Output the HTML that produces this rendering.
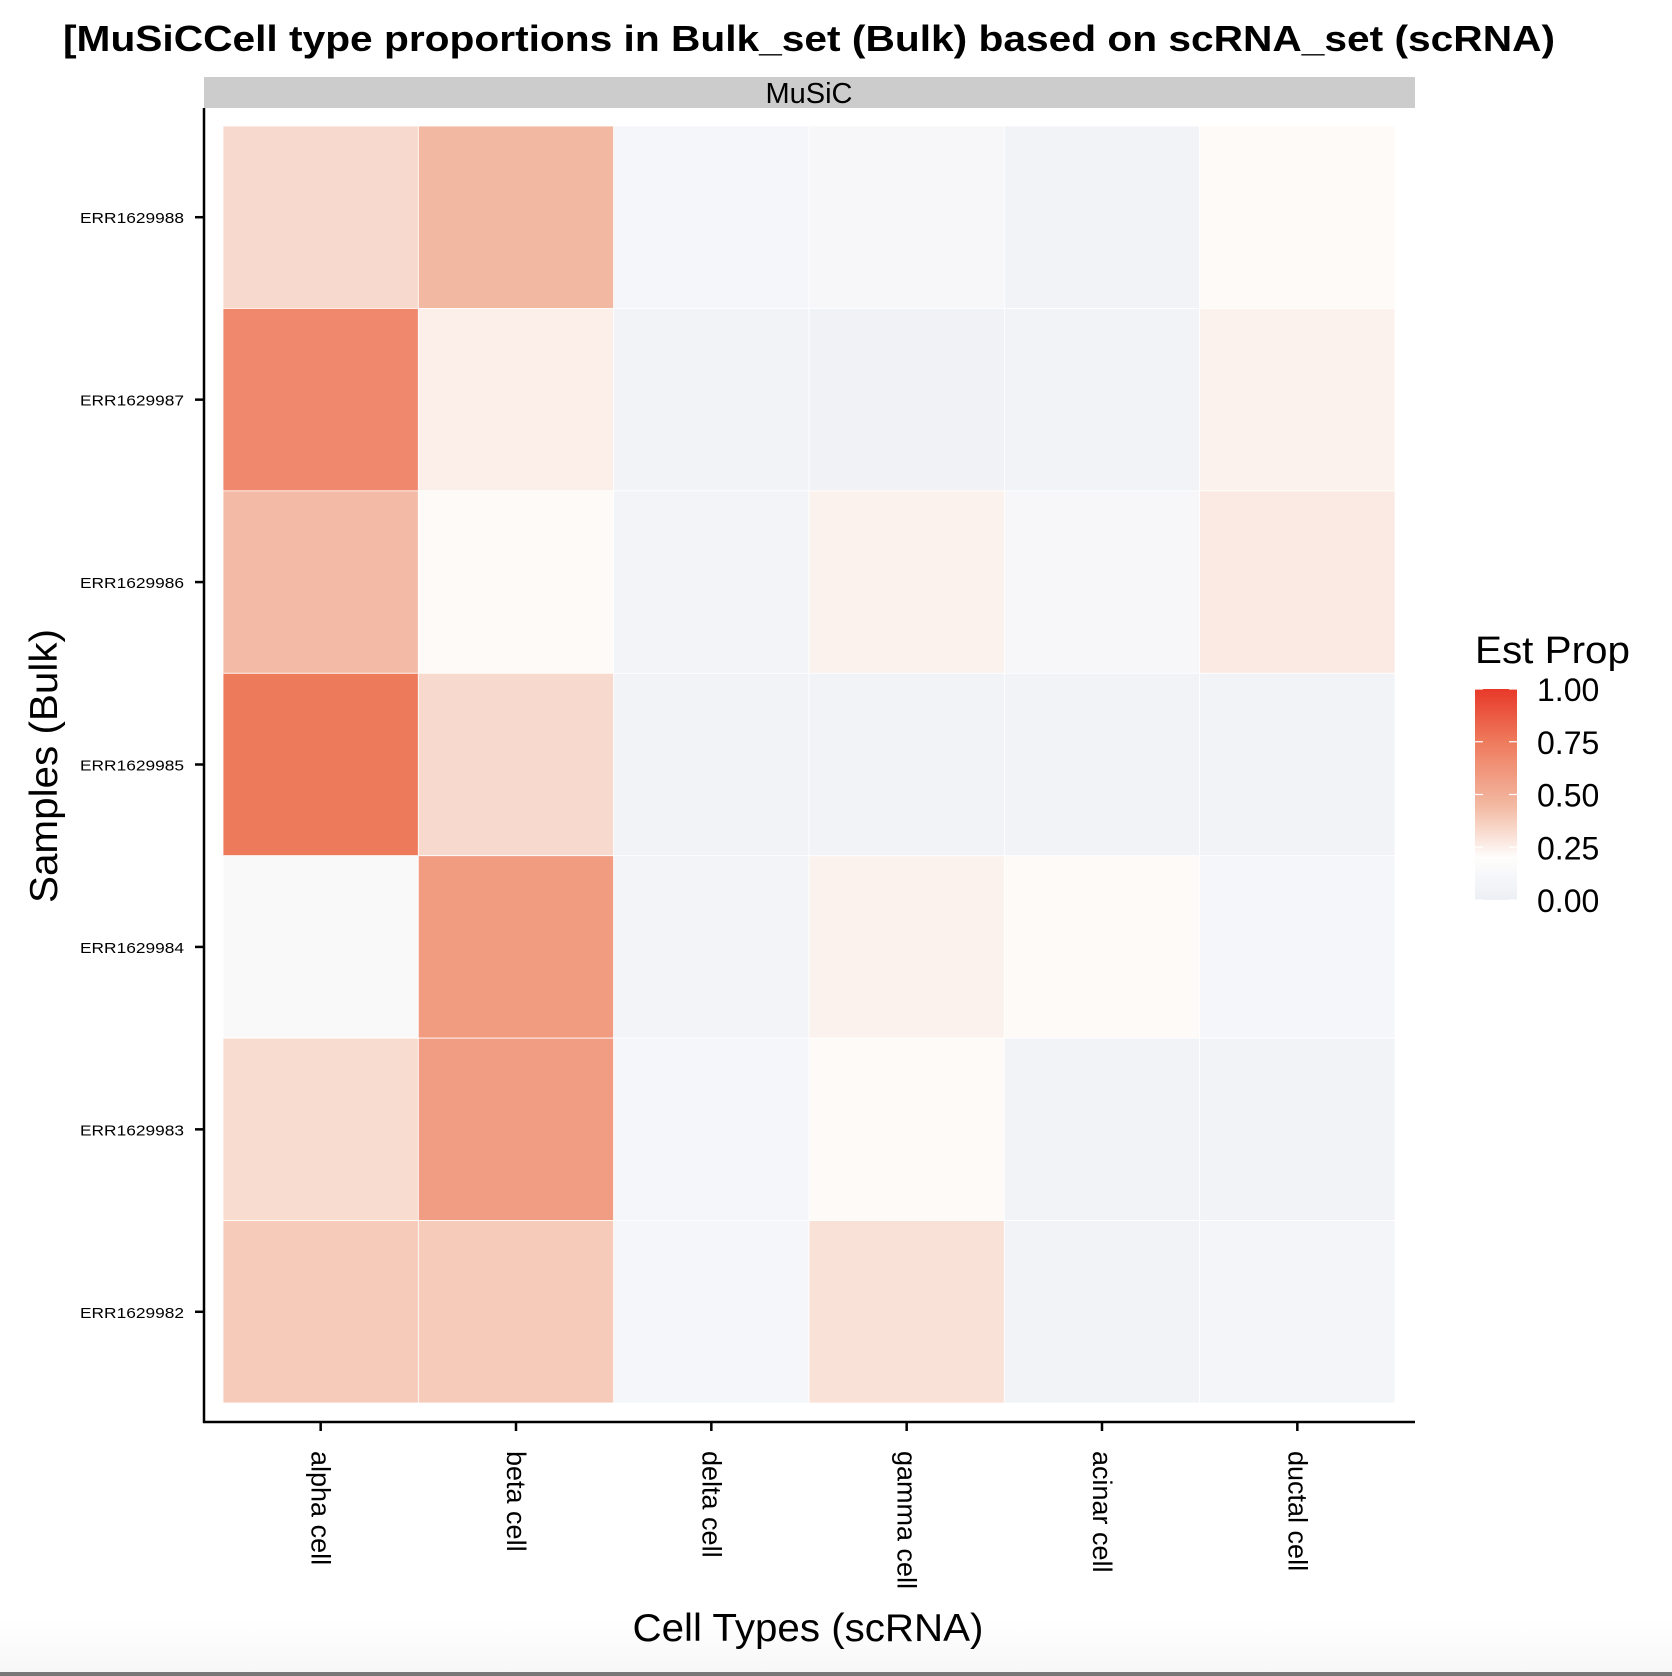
<!DOCTYPE html>
<html><head><meta charset="utf-8"><style>
html,body{margin:0;padding:0;background:#fff;width:1672px;height:1676px;overflow:hidden}
svg text{font-family:"Liberation Sans",Arial,sans-serif;fill:#000}
</style></head><body>
<svg id="chart" width="1672" height="1676" xmlns="http://www.w3.org/2000/svg">
<defs>
<linearGradient id="pageFade" x1="0" y1="0" x2="0" y2="1"><stop offset="0" stop-color="#ffffff"/><stop offset="1" stop-color="#f7f7f7"/></linearGradient>
<linearGradient id="legendGrad" x1="0" y1="1" x2="0" y2="0"></linearGradient>
</defs>
<rect x="0" y="1620" width="1672" height="52" fill="url(#pageFade)"/>
<rect x="0" y="1672" width="1672" height="4" fill="#777"/>
<text x="63" y="51" font-size="36" font-weight="bold" textLength="1492" lengthAdjust="spacingAndGlyphs">[MuSiCCell type proportions in Bulk_set (Bulk) based on scRNA_set (scRNA)</text>
<rect x="204" y="77" width="1211" height="31" fill="#cccccc"/>
<text x="809" y="103" font-size="29" text-anchor="middle">MuSiC</text>
<g id="tiles"></g>
<line x1="204" y1="108" x2="204" y2="1423" stroke="#000" stroke-width="2.5"/>
<line x1="203" y1="1422" x2="1415" y2="1422" stroke="#000" stroke-width="2.5"/>
<g id="yaxis"></g>
<g id="xaxis"></g>
<text x="808" y="1641" font-size="39" text-anchor="middle" textLength="351" lengthAdjust="spacingAndGlyphs">Cell Types (scRNA)</text>
<text transform="translate(57,766) rotate(-90)" font-size="39" text-anchor="middle" textLength="274" lengthAdjust="spacingAndGlyphs">Samples (Bulk)</text>
<g id="legend">
<text x="1475" y="663" font-size="38" textLength="155" lengthAdjust="spacingAndGlyphs">Est Prop</text>
<rect x="1475" y="689" width="42" height="211" fill="url(#legendGrad)"/>
</g>
</svg>
<script>
const cellTypes = ["alpha cell","beta cell","delta cell","gamma cell","acinar cell","ductal cell"];
const samples = ["ERR1629988","ERR1629987","ERR1629986","ERR1629985","ERR1629984","ERR1629983","ERR1629982"];
const propAlpha = [0.33,0.68,0.44,0.75,0.14,0.32,0.38];
const propBeta = [0.45,0.25,0.21,0.33,0.59,0.58,0.38];
const propDelta = [0.1,0.06,0.07,0.06,0.07,0.1,0.1];
const propGamma = [0.12,0.04,0.24,0.05,0.24,0.21,0.3];
const propAcinar = [0.06,0.06,0.12,0.05,0.21,0.06,0.06];
const propDuctal = [0.21,0.24,0.27,0.06,0.1,0.06,0.08];
const legendTicks = [0,0.25,0.5,0.75,1];
const legendLabels = ["0.00","0.25","0.50","0.75","1.00"];

const series = [propAlpha,propBeta,propDelta,propGamma,propAcinar,propDuctal];
const stops = [[0,[236,239,245]],[0.2,[254,253,252]],[0.45,[243,184,161]],[0.75,[238,122,92]],[1,[232,57,42]]];
function colorFor(v){
  v=Math.max(0,Math.min(1,v));
  for(let i=1;i<stops.length;i++){
    if(v<=stops[i][0]){
      const a=stops[i-1],b=stops[i],f=(v-a[0])/(b[0]-a[0]);
      const c=a[1].map((x,k)=>Math.round(x+(b[1][k]-x)*f));
      return `rgb(${c[0]},${c[1]},${c[2]})`;
    }
  }
  return 'rgb(232,57,42)';
}
const X0=223, X1=1395, Y0=126, Y1=1403;
const cw=(X1-X0)/cellTypes.length, rh=(Y1-Y0)/samples.length;
function xPos(i){return X0+i*cw;}
function yPos(j){return Y0+j*rh;}
function legendY(v){return 900-(v)*211;}
const NS="http://www.w3.org/2000/svg";
const tiles=document.getElementById('tiles');
series.forEach((vals,i)=>{
  vals.forEach((v,j)=>{
    const r=document.createElementNS(NS,'rect');
    r.setAttribute('x',xPos(i));r.setAttribute('y',yPos(j));
    r.setAttribute('width',cw);r.setAttribute('height',rh);
    r.setAttribute('fill',colorFor(v));r.setAttribute('stroke','#ffffff');r.setAttribute('stroke-width','0.8');
    
    
    tiles.appendChild(r);
  });
});
const yaxis=document.getElementById('yaxis');
samples.forEach((s,j)=>{
  const cy=yPos(j)+rh/2;
  const t=document.createElementNS(NS,'text');
  t.setAttribute('x',184);t.setAttribute('y',cy+6);t.setAttribute('font-size','15');t.setAttribute('text-anchor','end');
  t.setAttribute('textLength','104');t.setAttribute('lengthAdjust','spacingAndGlyphs');
  t.textContent=s;
  
  
  yaxis.appendChild(t);
  const l=document.createElementNS(NS,'line');
  l.setAttribute('x1',195);l.setAttribute('x2',204);l.setAttribute('y1',cy);l.setAttribute('y2',cy);
  l.setAttribute('stroke','#000');l.setAttribute('stroke-width','2.5');
  
  
  yaxis.appendChild(l);
});
const xaxis=document.getElementById('xaxis');
cellTypes.forEach((c,i)=>{
  const cx=xPos(i)+cw/2;
  const l=document.createElementNS(NS,'line');
  l.setAttribute('x1',cx);l.setAttribute('x2',cx);l.setAttribute('y1',1422);l.setAttribute('y2',1431);
  l.setAttribute('stroke','#000');l.setAttribute('stroke-width','2.5');
  
  
  xaxis.appendChild(l);
  const t=document.createElementNS(NS,'text');
  t.setAttribute('transform',`translate(${cx-9},1451) rotate(90)`);
  t.setAttribute('font-size','27');
  t.textContent=c;
  
  
  xaxis.appendChild(t);
});
const grad=document.getElementById('legendGrad');
for(let k=0;k<=20;k++){
  const s=document.createElementNS(NS,'stop');
  s.setAttribute('offset',k/20);s.setAttribute('stop-color',colorFor(k/20));
  grad.appendChild(s);
}
const legend=document.getElementById('legend');
legendTicks.forEach((v,k)=>{
  const y=legendY(v);
  [[1475,1483],[1509,1517]].forEach(p=>{
    const l=document.createElementNS(NS,'line');
    l.setAttribute('x1',p[0]);l.setAttribute('x2',p[1]);l.setAttribute('y1',y);l.setAttribute('y2',y);
    l.setAttribute('stroke','#fff');l.setAttribute('stroke-width','1.2');
    
    
    legend.appendChild(l);
  });
  const t=document.createElementNS(NS,'text');
  t.setAttribute('x',1537);t.setAttribute('y',y+12);t.setAttribute('font-size','32');
  t.textContent=legendLabels[k];
  
  
  legend.appendChild(t);
});
</script>
</body></html>
